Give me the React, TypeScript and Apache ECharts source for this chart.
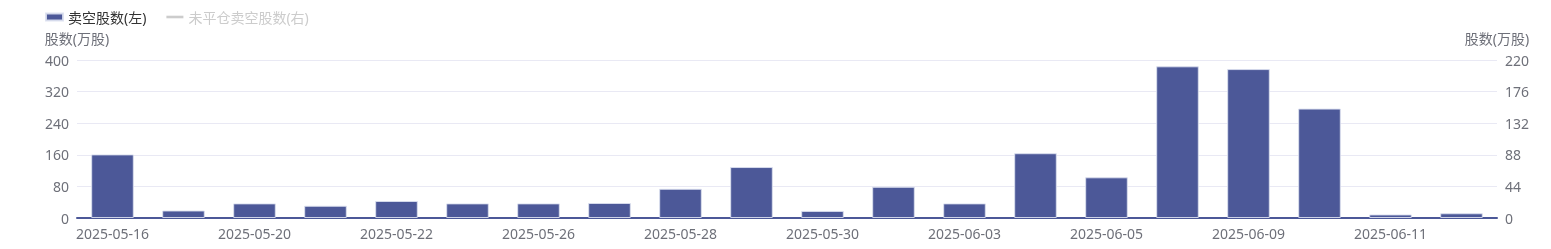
import React, { useEffect, useRef } from "react";
import * as echarts from "echarts";

const categories = [
  "2025-05-16", "2025-05-19", "2025-05-20", "2025-05-21", "2025-05-22",
  "2025-05-23", "2025-05-26", "2025-05-27", "2025-05-28", "2025-05-29",
  "2025-05-30", "2025-06-02", "2025-06-03", "2025-06-04", "2025-06-05",
  "2025-06-06", "2025-06-09", "2025-06-10", "2025-06-11", "2025-06-12",
];
const shortSold = [161, 19, 37, 31, 43, 37, 37, 38, 74, 129, 18, 79, 37, 164, 103, 384, 377, 277, 9, 12];
// Hidden (deselected) series in the reference: values cannot be read
const openShort: (number | null)[] = [];

const leftTicks = { min: 0, max: 400, interval: 80 };
const rightTicks = { min: 0, max: 220, interval: 44 };

const FONT = "'Noto Sans', 'Noto Sans CJK SC', sans-serif";

export default function App() {
  const ref = useRef<HTMLDivElement>(null);
  useEffect(() => {
    if (!ref.current) return;
    const chart = echarts.init(ref.current, undefined, { renderer: "svg" });
    chart.setOption({
      animation: false,
      textStyle: { fontFamily: FONT },
      legend: {
        left: 40,
        top: 5,
        itemWidth: 17,
        itemHeight: 7,
        itemGap: 20,
        textStyle: { fontSize: 14, color: "#333", fontFamily: FONT },
        inactiveColor: "#ccc",
        data: [
          { name: "卖空股数(左)", icon: "rect" },
          { name: "未平仓卖空股数(右)", icon: "path://M0,0M17,7M0,2.2h17v2.6h-17z" },
        ],
        selected: { "卖空股数(左)": true, "未平仓卖空股数(右)": false },
      },
      grid: { left: 77, right: 54, top: 60, bottom: 31, containLabel: false },
      xAxis: {
        type: "category",
        data: categories,
        axisLine: { lineStyle: { color: "#4c5898", width: 2 } },
        axisTick: { alignWithLabel: true, interval: 1, lineStyle: { color: "#4c5898" } },
        axisLabel: { interval: 1, fontSize: 14, color: "#6E7079", margin: 8, fontFamily: FONT },
      },
      yAxis: [
        {
          type: "value",
          name: "股数(万股)",
          nameTextStyle: { fontSize: 14, color: "#6E7079", fontFamily: FONT },
          ...leftTicks,
          axisLabel: { fontSize: 14, color: "#6E7079", fontFamily: FONT },
          splitLine: { lineStyle: { color: "#E9E9F4" } },
        },
        {
          type: "value",
          name: "股数(万股)",
          nameTextStyle: { fontSize: 14, color: "#6E7079", fontFamily: FONT },
          ...rightTicks,
          axisLabel: { fontSize: 14, color: "#6E7079", fontFamily: FONT },
          splitLine: { show: false },
        },
      ],
      series: [
        {
          name: "卖空股数(左)",
          type: "bar",
          yAxisIndex: 0,
          data: shortSold,
          barWidth: "60%",
          itemStyle: { color: "#4c5898", borderColor: "rgba(220,224,240,0.9)", borderWidth: 1 },
        },
        {
          name: "未平仓卖空股数(右)",
          type: "line",
          yAxisIndex: 1,
          data: openShort,
          symbol: "none",
          lineStyle: { width: 3, color: "#ccc" },
          itemStyle: { color: "#ccc" },
        },
      ],
    });
    return () => chart.dispose();
  }, []);
  return (
    <div
      ref={ref}
      style={{ position: "fixed", left: 0, top: 0, width: 1551, height: 249 }}
    />
  );
}
